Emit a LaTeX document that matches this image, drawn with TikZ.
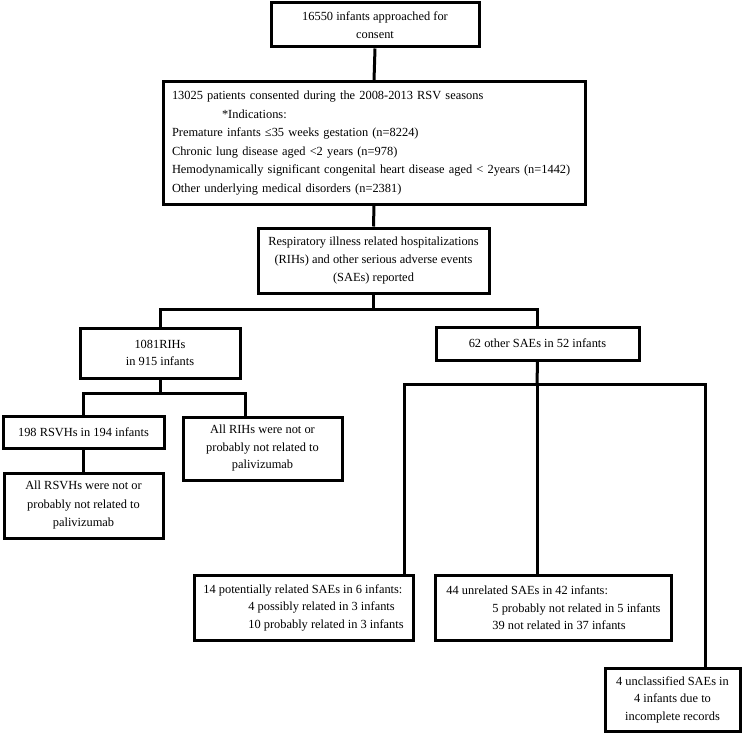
\documentclass[tikz,border=0pt]{standalone}
\usepackage{fontspec}
\setmainfont{Liberation Serif}
\begin{document}
\begin{tikzpicture}[x=1pt,y=-1pt,
  box/.style={draw, line width=3pt, rectangle, inner sep=0pt, font=\fontsize{12.4}{17.5}\selectfont},
  link/.style={line width=3pt}]
\useasboundingbox (0,0) rectangle (742,733);
\node[box, minimum width=208, minimum height=44, align=center] (b1) at (375,25) {16550 infants approached for\\consent};
\node[box, minimum width=422, minimum height=122, text width=404, align=left, font=\fontsize{12.4}{18.5}\selectfont] (b2) at (374,143) {13025 patients consented during the 2008-2013 RSV seasons\\
\hspace*{50pt}*Indications:\\
Premature infants ≤35 weeks gestation (n=8224)\\
Chronic lung disease aged <2 years (n=978)\\
Hemodynamically significant congenital heart disease aged < 2years (n=1442)\\
Other underlying medical disorders (n=2381)};
\node[box, minimum width=231, minimum height=65, align=center, font=\fontsize{12.4}{18}\selectfont] (b3) at (373.5,260.5) {Respiratory illness related hospitalizations\\(RIHs) and other serious adverse events\\(SAEs) reported};
\node[box, minimum width=160, minimum height=50, align=center, font=\fontsize{12.4}{16.5}\selectfont] (b4) at (160,353) {1081RIHs\\in 915 infants};
\node[box, minimum width=203, minimum height=33, align=center] (b5) at (537.5,343.5) {62 other SAEs in 52 infants};
\node[box, minimum width=161, minimum height=32, align=center] (b6) at (83.5,432) {198 RSVHs in 194 infants};
\node[box, minimum width=159, minimum height=63, align=center] (b7) at (262.5,448.5) {All RIHs were not or\\probably not related to\\palivizumab};
\node[box, minimum width=159, minimum height=65, align=center, font=\fontsize{12.4}{18.5}\selectfont] (b8) at (83.5,505.5) {All RSVHs were not or\\probably not related to\\palivizumab};
\node[box, minimum width=219, minimum height=65, align=left] (b9) at (303.5,607.5) {14 potentially related SAEs in 6 infants:\\
\hspace*{45pt}4 possibly related in 3 infants\\
\hspace*{45pt}10 probably related in 3 infants};
\node[box, minimum width=236, minimum height=65, align=left] (b10) at (553.5,608) {44 unrelated SAEs in 42 infants:\\
\hspace*{46pt}5 probably not related in 5 infants\\
\hspace*{46pt}39 not related in 37 infants};
\node[box, minimum width=135, minimum height=63, align=center] (b11) at (672.5,699.5) {4 unclassified SAEs in\\4 infants due to\\incomplete records};
% connectors
\coordinate (j1) at (373.5,309);
\coordinate (j2) at (160,393);
\coordinate (j2r) at (245,393);
\coordinate (j3) at (537,384);
\coordinate (j3l) at (404,384);
\coordinate (j3r) at (705,384);
\draw[link] (b1.south) -- (b2.north);
\draw[link] (b2.south) -- (b3.north);
\draw[link] (b3.south) -- (j1);
\draw[link] (b4.north) |- (j1) -| (b5.north);
\draw[link] (b4.south) -- (j2);
\draw[link] (b6.north) |- (j2r) -- (j2r |- b7.north);
\draw[link] (b6.south) -- (b8.north);
\draw[link] (b5.south) -- (j3);
\draw[link] (j3l |- b9.north) -- (j3l) -- (j3r) -- (j3r |- b11.north);
\draw[link] (j3) -- (j3 |- b10.north);
\end{tikzpicture}
\end{document}
